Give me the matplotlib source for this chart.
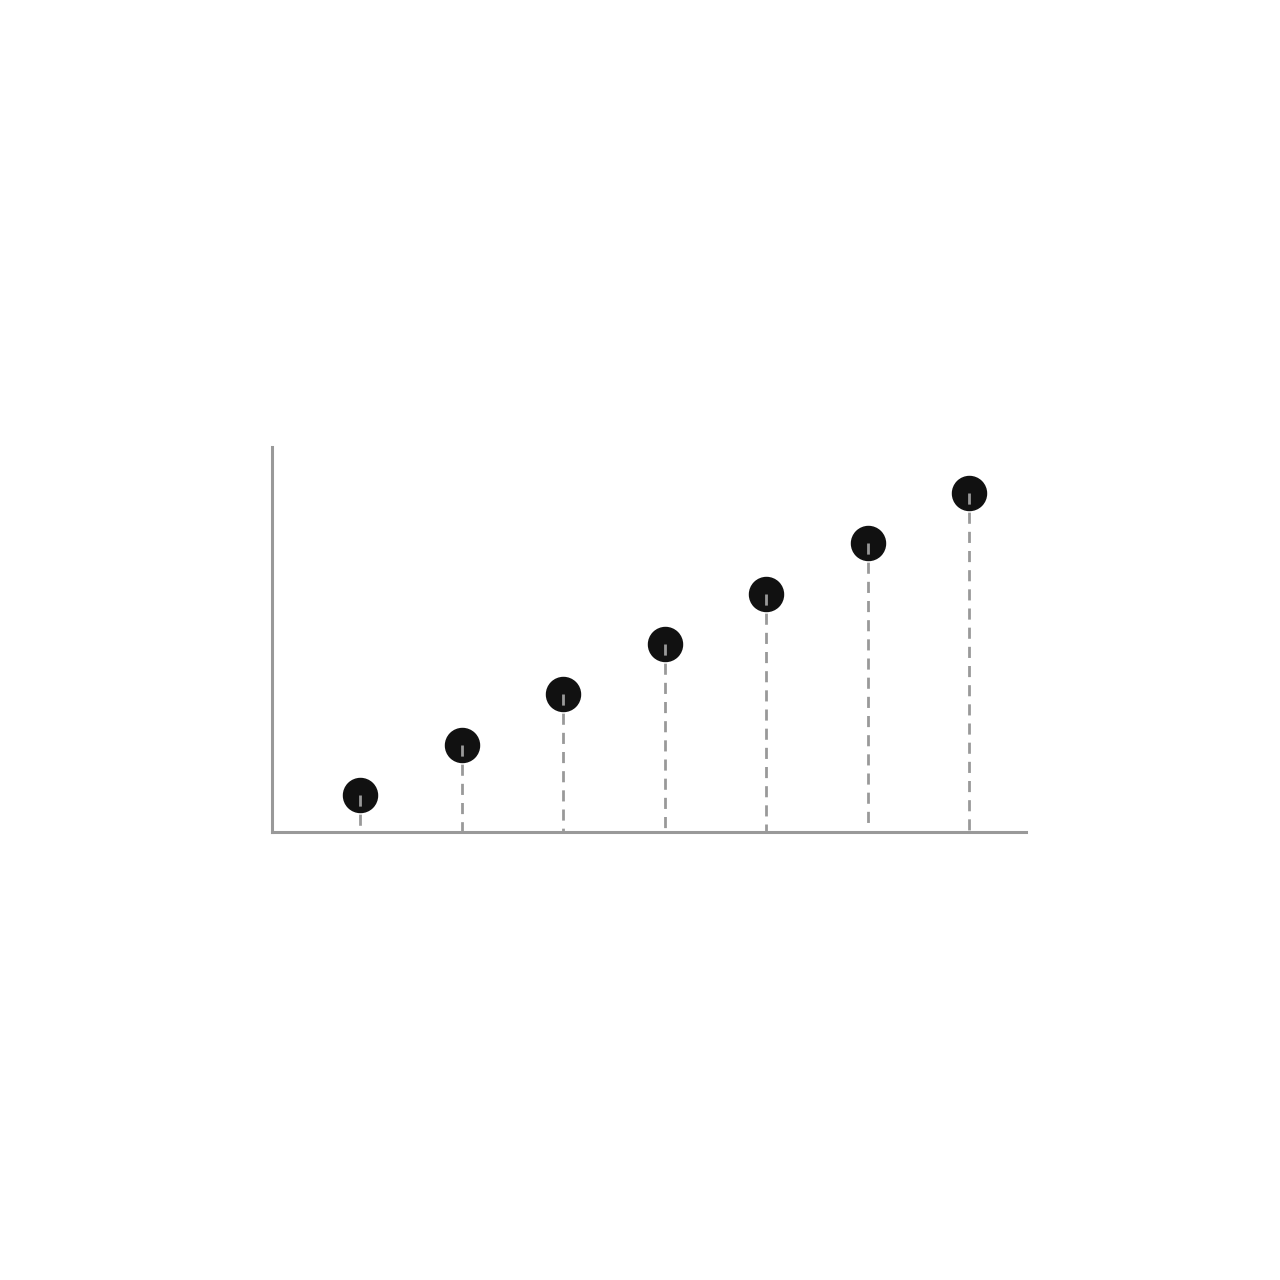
import matplotlib
matplotlib.use("Agg")
import matplotlib.pyplot as plt

# Data
x_pos = [1, 2, 3, 4, 5, 6, 7]
values = [1, 2, 3, 4, 5, 6, 7]

y_bottom = 0.26

fig = plt.figure(figsize=(12.8, 12.8), dpi=100)
ax = fig.add_axes([0.2125, 0.35, 0.5891, 0.3008])

# Points, then dashed stems drawn on top of them
ax.plot(x_pos, values, linestyle="none", marker="o", markersize=24.5,
        color="#111111", zorder=2)
for xv, yv in zip(x_pos, values):
    ax.plot([xv, xv], [yv, y_bottom], color="#999999", linewidth=2.0,
            linestyle=(0, (4.0, 2.9)), zorder=3)

ax.set_xlim(0.133, 7.56)
ax.set_ylim(y_bottom, 7.92)

for side in ["top", "right"]:
    ax.spines[side].set_visible(False)
for side in ["left", "bottom"]:
    ax.spines[side].set_color("#999999")
    ax.spines[side].set_linewidth(2.2)
ax.set_xticks([])
ax.set_yticks([])

fig.savefig("out.png", dpi=100, facecolor="white")
